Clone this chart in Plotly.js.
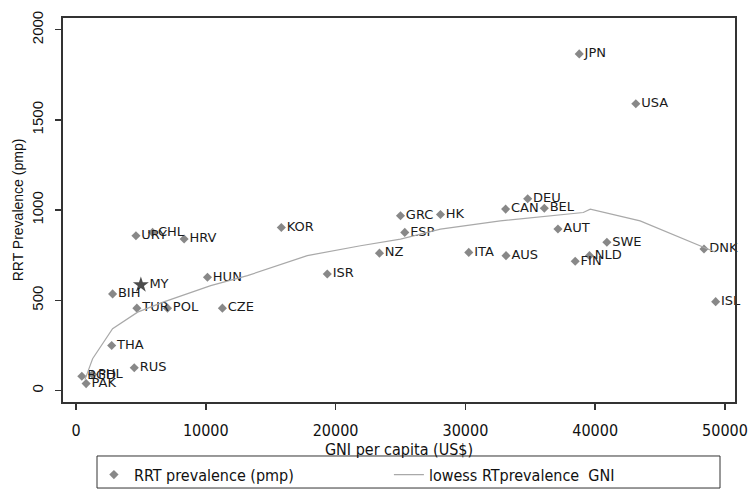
<!DOCTYPE html>
<html>
<head>
<meta charset="utf-8">
<script src="https://cdn.plot.ly/plotly-3.0.1.min.js"></script>
<style>html,body{margin:0;padding:0;background:#fff;}#chart{width:750px;height:496px;}</style>
</head>
<body>
<div id="chart"></div>
<script>
// Countries (point labels)
var countries = ["JPN","USA","DEU","CAN","BEL","AUT","GRC","HK","ESP","NZ","ITA","AUS","ISR","KOR","URY","CHL","HRV","HUN","MY","BIH","TUR","POL","CZE","THA","RUS","BGD","PHL","PAK","SWE","DNK","ISL","NLD","FIN"];
// GNI per capita (US$)
var gni = [38770,43130,34800,33100,36080,37130,25000,28080,25330,23380,30260,33130,19360,15820,4620,5900,8330,10130,5000,2820,4690,7050,11280,2750,4490,450,1280,780,40900,48380,49280,39560,38460];
// RRT prevalence (pmp)
var rrt = [1866,1590,1063,1006,1011,896,969,976,877,762,766,748,646,904,858,877,840,628,586,536,457,457,457,250,127,80,90,39,822,785,493,748,717];
// Lowess smoothed curve
var lowessX = [690,1280,2820,4750,6770,10380,13210,17820,21920,25000,28080,32690,39080,39620,43460,48310,49230];
var lowessY = [61,177,343,435,492,582,637,748,803,840,895,941,987,1006,941,794,768];
// Axis ticks
var xTicks = [0,10000,20000,30000,40000,50000];
var yTicks = [0,500,1000,1500,2000];

var highlight = "MY";
var symbols = countries.map(function(c){ return c === highlight ? "star" : "diamond"; });
var colors = countries.map(function(c){ return c === highlight ? "#000000" : "#555555"; });
var sizes = countries.map(function(c){ return c === highlight ? 12 : 7; });

var narrow = "Liberation Sans Narrow, Arial Narrow, DejaVu Sans Condensed, Liberation Sans, sans-serif";

var traces = [
  {
    type: "scatter", mode: "markers+text",
    x: gni, y: rrt, text: countries,
    textposition: "middle right",
    textfont: {family: "DejaVu Sans, sans-serif", size: 13, color: "#1a1a1a"},
    marker: {symbol: symbols, color: colors, size: sizes, line: {width: 0}},
    cliponaxis: false,
    name: "RRT prevalence (pmp)"
  },
  {
    type: "scatter", mode: "lines",
    x: lowessX, y: lowessY,
    line: {color: "#a9a9a9", width: 1.2},
    name: "lowess RTprevalence \u00a0GNI"
  }
];

var layout = {
  width: 750, height: 496,
  margin: {l: 63, r: 15, t: 18, b: 94, autoexpand: false},
  paper_bgcolor: "#ffffff", plot_bgcolor: "#ffffff",
  showlegend: true,
  xaxis: {
    range: [-1000, 50770], tickvals: xTicks, ticktext: xTicks.map(String),
    showgrid: false, zeroline: false,
    showline: true, linecolor: "#333333", linewidth: 2, mirror: true,
    ticks: "outside", ticklen: 6, tickcolor: "#333333", tickwidth: 1.5,
    ticklabelstandoff: 7,
    tickfont: {family: narrow, size: 16, color: "#111111"},
    title: {text: "GNI per capita (US$)", font: {family: narrow, size: 16, color: "#111111"}, standoff: 0},
    automargin: false
  },
  yaxis: {
    range: [-63, 2065], tickvals: yTicks, ticktext: yTicks.map(String),
    showgrid: false, zeroline: false,
    showline: true, linecolor: "#333333", linewidth: 2, mirror: true,
    ticks: "outside", ticklen: 6, tickcolor: "#333333", tickwidth: 1.5,
    tickangle: -90, ticklabelstandoff: 6,
    tickfont: {family: "Liberation Sans, Arial, sans-serif", size: 15, color: "#111111"},
    title: {text: "RRT Prevalence (pmp)", font: {family: "Liberation Sans, Arial, sans-serif", size: 14, color: "#111111"}, standoff: 2},
    automargin: false
  },
  legend: {
    orientation: "h", x: 0.046, xanchor: "left", y: -0.145, yanchor: "top",
    bgcolor: "rgba(0,0,0,0)", borderwidth: 0,
    entrywidth: 250, entrywidthmode: "pixels",
    font: {family: narrow, size: 16, color: "#111111"}
  },
  shapes: [{
    type: "rect", xref: "paper", yref: "paper",
    x0: 0.0506, x1: 0.9777, y0: -0.1406, y1: -0.224,
    line: {color: "#333333", width: 1}, fillcolor: "rgba(0,0,0,0)"
  }]
};

Plotly.newPlot("chart", traces, layout, {displayModeBar: false, staticPlot: true});
</script>
</body>
</html>
